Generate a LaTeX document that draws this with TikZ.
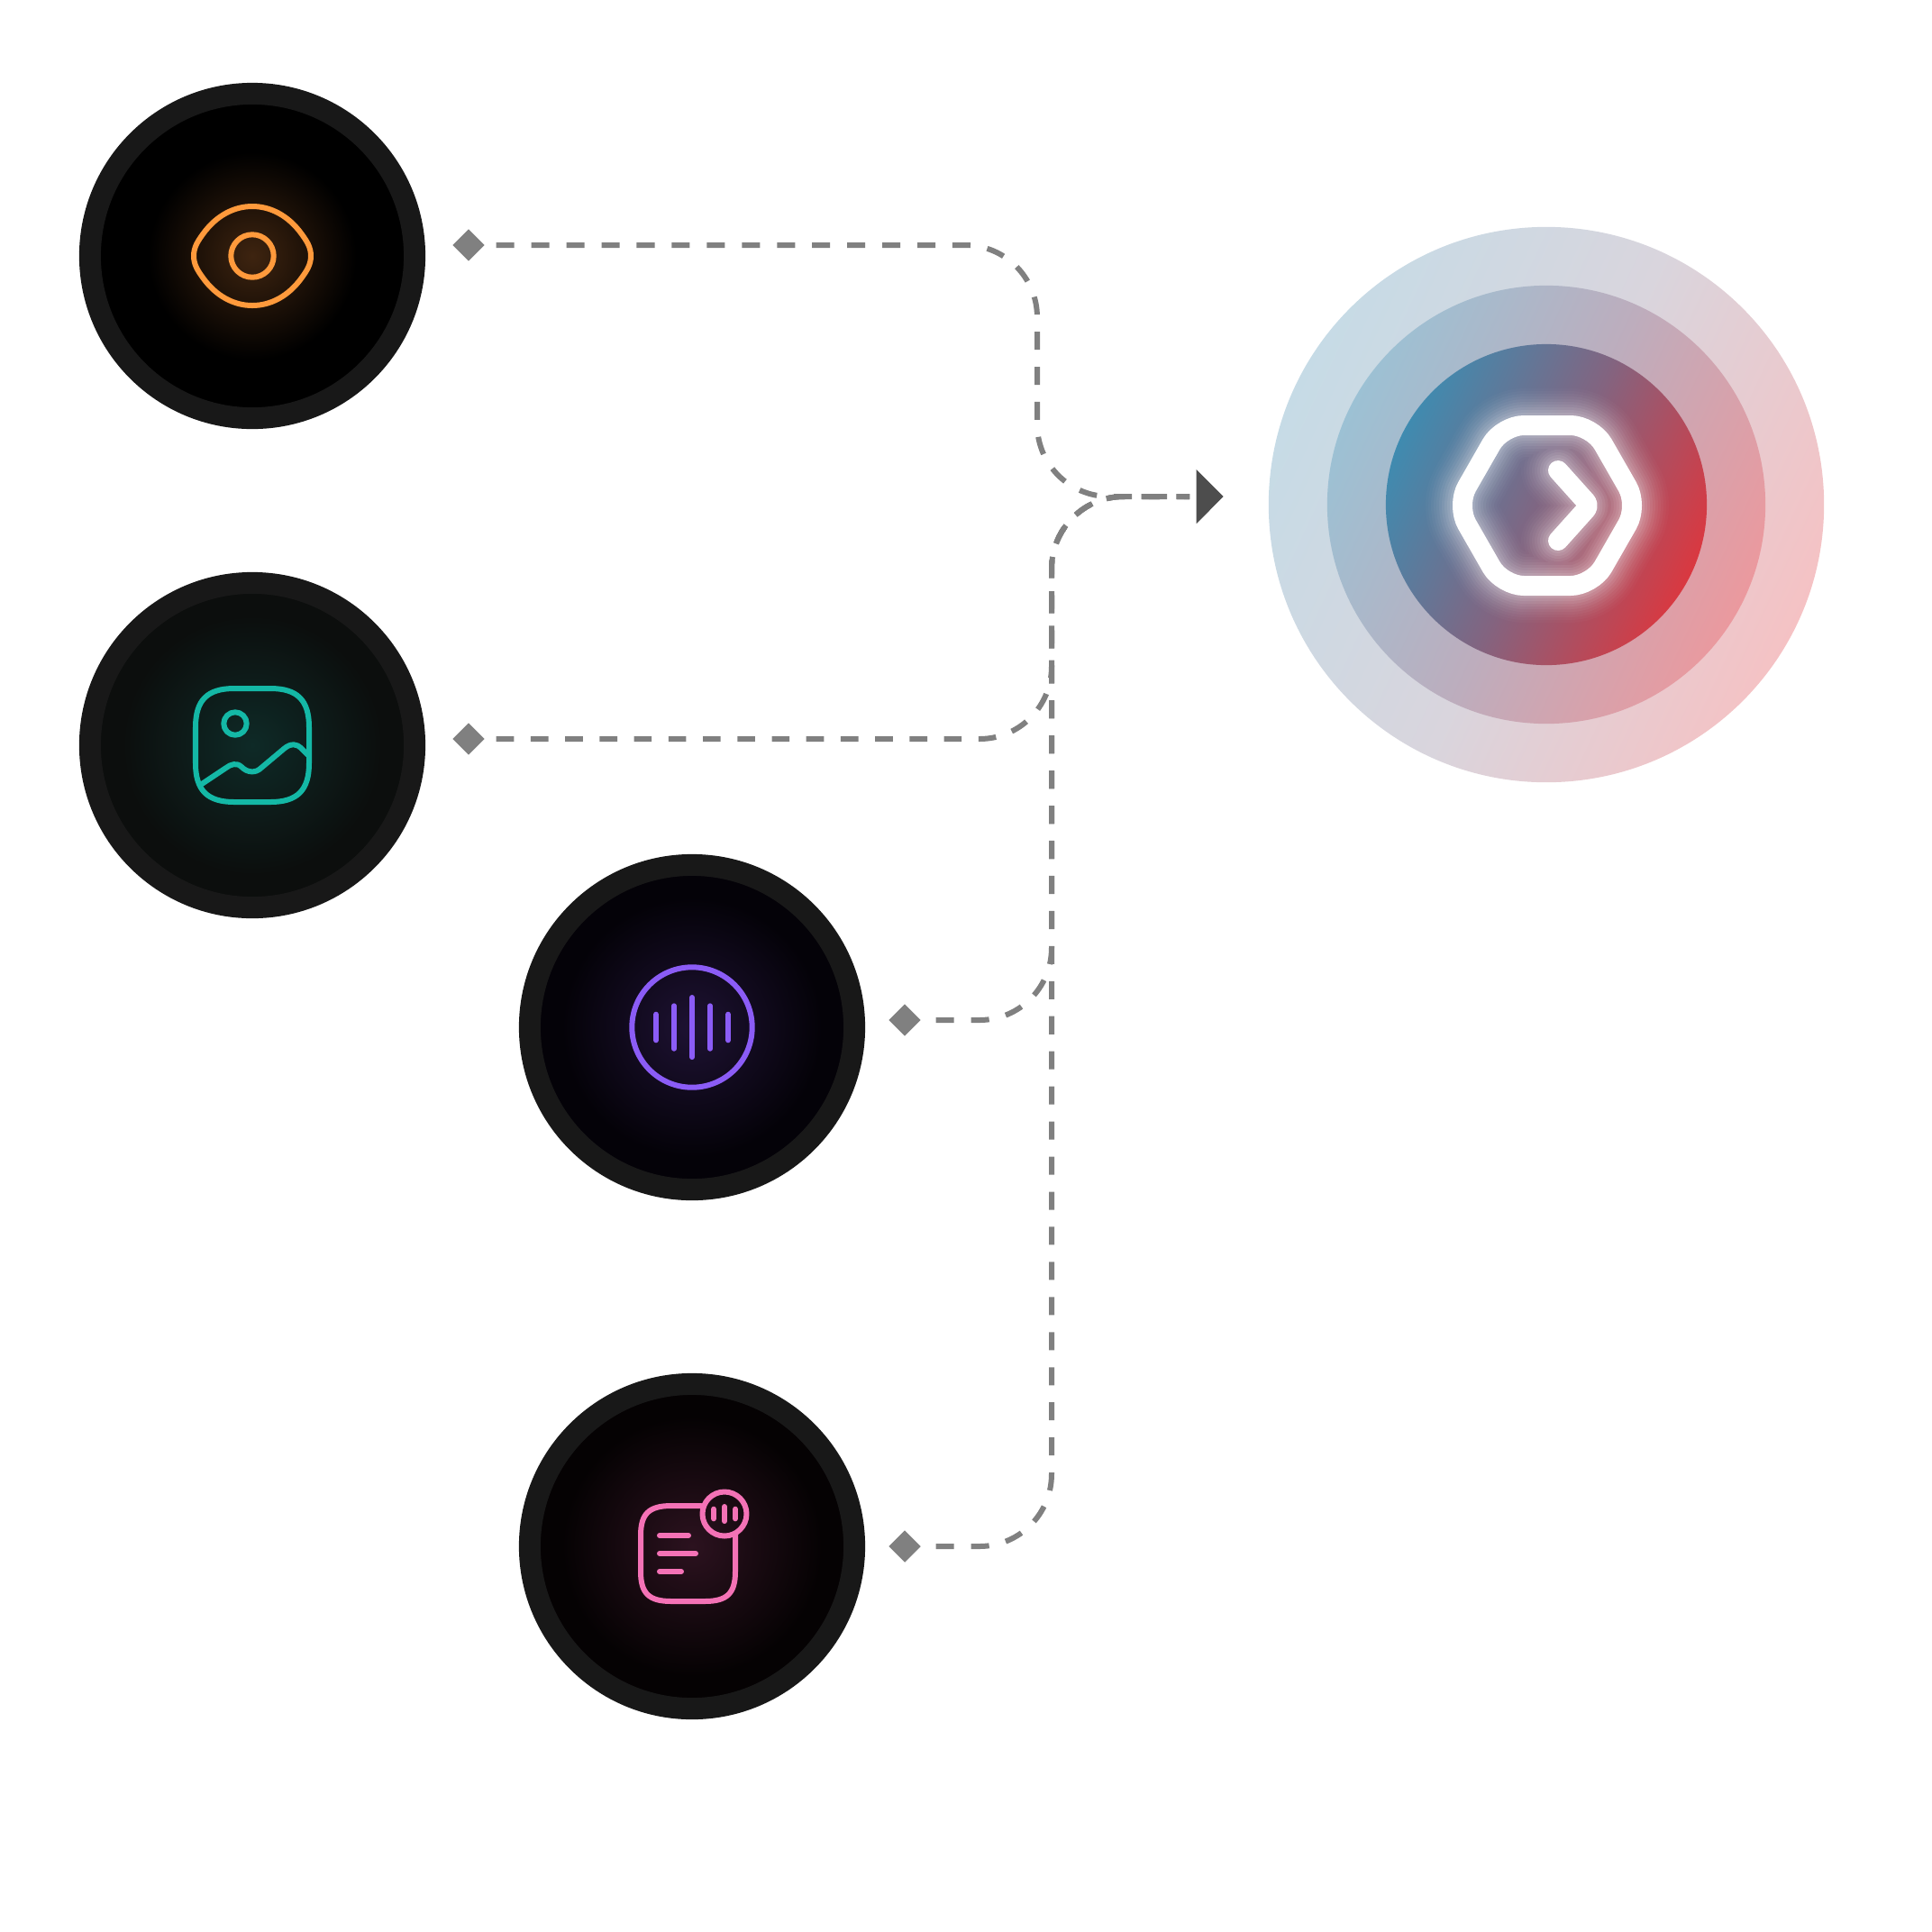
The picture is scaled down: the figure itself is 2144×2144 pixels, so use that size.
\documentclass[tikz,border=0pt]{standalone}
\usepackage{tikz}
\usetikzlibrary{arrows.meta,positioning,calc,shapes.geometric}
\definecolor{badgeRim}{HTML}{181818}
\definecolor{flowGray}{HTML}{808080}
\definecolor{tipGray}{HTML}{4D4D4D}
\definecolor{eyeLine}{HTML}{FF9A3C}
\definecolor{eyeCore}{HTML}{3E2410}
\definecolor{imgLine}{HTML}{14B8A6}
\definecolor{imgCore}{HTML}{0E2A27}
\definecolor{imgEdge}{HTML}{0C0E0D}
\definecolor{audLine}{HTML}{8B5CF6}
\definecolor{audCore}{HTML}{1E1233}
\definecolor{audEdge}{HTML}{040208}
\definecolor{docLine}{HTML}{F472B6}
\definecolor{docCore}{HTML}{2C121F}
\definecolor{docEdge}{HTML}{050203}
\definecolor{innerA}{HTML}{3F8BB0}
\definecolor{innerB}{HTML}{836480}
\definecolor{innerC}{HTML}{DA3840}
\definecolor{middleA}{HTML}{9CC1D4}
\definecolor{middleB}{HTML}{BDADBD}
\definecolor{middleC}{HTML}{EB999E}
\definecolor{outerA}{HTML}{C6DBE6}
\definecolor{outerB}{HTML}{D9D5DD}
\definecolor{outerC}{HTML}{F5C2C4}
\pgfdeclareradialshading{eyeglow}{\pgfpoint{0bp}{0bp}}{color(0bp)=(eyeCore); color(16bp)=(black); color(50bp)=(black)}
\pgfdeclareradialshading{imgglow}{\pgfpoint{0bp}{0bp}}{color(0bp)=(imgCore); color(20bp)=(imgEdge); color(50bp)=(imgEdge)}
\pgfdeclareradialshading{audglow}{\pgfpoint{0bp}{0bp}}{color(0bp)=(audCore); color(20bp)=(audEdge); color(50bp)=(audEdge)}
\pgfdeclareradialshading{docglow}{\pgfpoint{0bp}{0bp}}{color(0bp)=(docCore); color(20bp)=(docEdge); color(50bp)=(docEdge)}
\pgfdeclarehorizontalshading{ringinner}{100bp}{color(0bp)=(innerA); color(25bp)=(innerA); color(50bp)=(innerB); color(75bp)=(innerC); color(100bp)=(innerC)}
\pgfdeclarehorizontalshading{ringmiddle}{100bp}{color(0bp)=(middleA); color(25bp)=(middleA); color(50bp)=(middleB); color(75bp)=(middleC); color(100bp)=(middleC)}
\pgfdeclarehorizontalshading{ringouter}{100bp}{color(0bp)=(outerA); color(25bp)=(outerA); color(50bp)=(outerB); color(75bp)=(outerC); color(100bp)=(outerC)}
\tikzset{
  badge/.style={circle,draw=badgeRim,line width=.24cm,minimum size=3.6cm,inner sep=0pt},
  ring/.style={circle,inner sep=0pt,shading angle=-25},
  port/.style={diamond,fill=flowGray,minimum size=.36cm,inner sep=0pt},
  flow/.style={draw=flowGray,line width=.06cm,rounded corners=.8cm,dash pattern=on .2cm off .1893cm,shorten <=.16cm,shorten >=.07cm},
  icon/.style={line width=.06cm,line cap=round,line join=round}
}
\begin{document}
\begin{tikzpicture}[x=.01cm,y=-.01cm]
  \useasboundingbox (0,0) rectangle (2144,2144);
  % sources
  \node[badge,shading=eyeglow] (eye) at (280,284) {};
  \node[badge,shading=imgglow] (img) at (280,827) {};
  \node[badge,shading=audglow] (aud) at (768,1140) {};
  \node[badge,shading=docglow] (doc) at (768,1716) {};
  % target
  \node[ring,shading=ringouter,minimum size=6.16cm] (outer) at (1716,560) {};
  \node[ring,shading=ringmiddle,minimum size=4.86cm] (middle) at (outer) {};
  \node[ring,shading=ringinner,minimum size=3.56cm] (inner) at (outer) {};
  % connectors
  \node[port] (pEye) at (520,272) {};
  \node[port] (pImg) at (520,820) {};
  \node[port] (pAud) at (1004,1132) {};
  \node[port] (pDoc) at (1004,1716) {};
  \node[isosceles triangle,isosceles triangle apex angle=90,fill=tipGray,minimum height=.3cm,inner sep=0pt,anchor=west] (tip) at (1327,551) {};
  \coordinate (busA) at (1151,400);
  \coordinate (busB) at (1167,600);
  \draw[flow,shorten <=.12cm,dash pattern=on .2cm off .1892cm] (pEye.east) -| (busA |- tip.west) -- (tip.west);
  \draw[flow,shorten <=.12cm,dash pattern=on .196cm off .186cm] (pImg.east) -| (busB |- tip.west) -- (tip.west);
  \draw[flow] (pAud.east) -| (busB |- tip.west) -- (tip.west);
  \draw[flow] (pDoc.east) -| (busB |- tip.west) -- (tip.west);
  % eye icon
  \begin{scope}[shift={(eye.center)},eyeLine,icon]
    \draw (-65,0) .. controls (-65,-10) and (-60,-17) .. (-55,-24) .. controls (-40,-45) and (-20,-55) .. (0,-55)
      .. controls (20,-55) and (40,-45) .. (55,-24) .. controls (60,-17) and (65,-10) .. (65,0)
      .. controls (65,10) and (60,17) .. (55,24) .. controls (40,45) and (20,55) .. (0,55)
      .. controls (-20,55) and (-40,45) .. (-55,24) .. controls (-60,17) and (-65,10) .. (-65,0) -- cycle;
    \draw (0,0) circle (23.7);
  \end{scope}
  % image icon
  \begin{scope}[shift={(img.center)},imgLine,icon]
    \draw (-63,-20) .. controls (-63,-50) and (-50,-63) .. (-20,-63) -- (20,-63)
      .. controls (50,-63) and (63,-50) .. (63,-20) -- (63,20)
      .. controls (63,50) and (50,63) .. (20,63) -- (-20,63)
      .. controls (-50,63) and (-63,50) .. (-63,20) -- cycle;
    \draw (-19,-24) circle (12.7);
    \draw (-56,43) -- (-29,25) .. controls (-24,21) and (-17,19) .. (-12,24) .. controls (-5,31) and (4,31) .. (10,25)
      -- (35,4) .. controls (43,-3) and (50,-1) .. (54,3) -- (62,11);
  \end{scope}
  % audio icon
  \begin{scope}[shift={(aud.center)},audLine,icon]
    \draw (0,0) circle (66.7);
    \foreach \dx/\dy in {-40/14.3,-20/23.7,0/33,20/23.7,40/14.3}
      \draw (\dx,-\dy) -- (\dx,\dy);
  \end{scope}
  % document icon
  \begin{scope}[docLine,icon]
    \draw (778,1671) -- (745,1671) .. controls (720,1671) and (711,1680) .. (711,1704) -- (711,1744)
      .. controls (711,1768) and (720,1777) .. (745,1777) -- (782,1777)
      .. controls (807,1777) and (816,1768) .. (816,1744) -- (816,1703);
    \draw (804,1680) circle (24.5);
    \foreach \dx/\dy in {-12/5.3,0/8,12/5.3}
      \draw (804+\dx,1680-\dy) -- (804+\dx,1680+\dy);
    \draw (732,1704) -- (764,1704);
    \draw (732,1724) -- (772,1724);
    \draw (732,1744) -- (756,1744);
  \end{scope}
  % hub icon with glow
  \foreach \w/\o in {82/.02,76/.025,70/.03,64/.035,58/.04,52/.05,46/.06,40/.07,34/.08,28/.1,22/1}
    \draw[white,opacity=\o,line width=\w*.01cm,line cap=round,line join=round]
      (1717,472) [rounded corners=.24cm] -- (1767,472) -- (1818,561) -- (1767,650) -- (1667,650) -- (1616,561) -- (1667,472) -- cycle
      (1729,522) [rounded corners=.06cm] -- (1764,561) -- (1729,600);
\end{tikzpicture}
\end{document}
